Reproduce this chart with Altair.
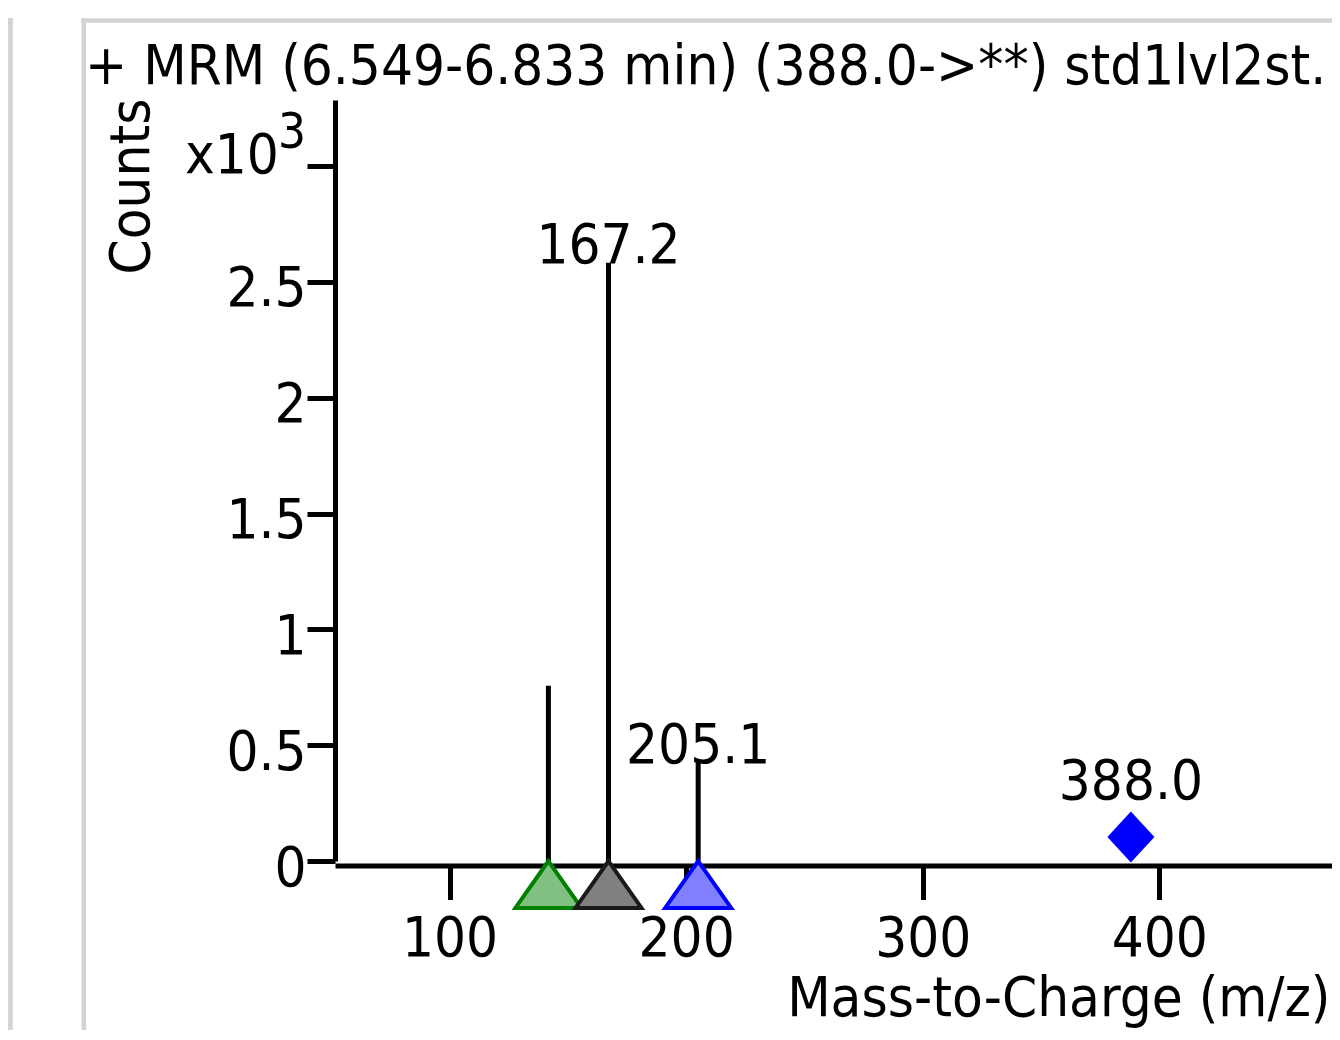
import altair as alt
import pandas as pd

# ---- data ----
peak_mz = [141.8, 167.2, 205.1]
peak_counts = [0.756, 2.582, 0.423]          # in units of x10^3 counts
peak_labels = ["", "167.2", "205.1"]
marker_ids = ["ion A", "ion B", "ion C"]
precursor_mz = [388.0]
precursor_labels = ["388.0"]
x_ticks = [100, 200, 300, 400]
y_ticks = [0, 0.5, 1, 1.5, 2, 2.5, 3]
title_text = "+ MRM (6.549-6.833 min) (388.0->**) std1lvl2st."
x_title = "Mass-to-Charge (m/z)"
y_title = "Counts"
exp_base = "x10"
exp_power = "3"

# ---- styles ----
FONT = "DejaVu Sans Condensed"
FS = 56
marker_fill = ["#80c080", "#808080", "#8080ff"]
marker_stroke = ["#008000", "#1a1a1a", "#0000ff"]
BORDER = "#d3d3d3"
TRI = "M0,-0.71L1,0.71L-1,0.71Z"
DIAMOND = "M0,-1.08L1,0L0,1.08L-1,0Z"

peaks = pd.DataFrame({"mz": peak_mz, "counts": peak_counts,
                      "label": peak_labels, "ion": marker_ids})
prec = pd.DataFrame({"mz": precursor_mz, "label": precursor_labels})

xs = alt.Scale(domain=[51.6, 473.0], nice=False, zero=False)
ys = alt.Scale(domain=[0, 3.285], nice=False, zero=False)

x_axis = alt.Axis(values=x_ticks, format="d", grid=False,
                  domainColor="black", domainWidth=5, tickColor="black",
                  tickWidth=5, tickSize=34, offset=4.5,
                  labelFont=FONT, labelFontSize=FS, labelColor="black",
                  labelPadding=12, labelFlush=False,
                  title=x_title, titleFont=FONT, titleFontSize=FS,
                  titleFontWeight="normal", titleColor="black",
                  titleAlign="right", titleBaseline="alphabetic",
                  titleX=995, titleY=150)

y_axis = alt.Axis(values=y_ticks, grid=False,
                  domainColor="black", domainWidth=5, tickColor="black",
                  tickWidth=5, tickSize=28,
                  labelFont=FONT, labelFontSize=FS, labelColor="black",
                  labelPadding=1, labelOffset=7,
                  labelExpr="datum.value == 3 ? '' : format(datum.value, '~g')",
                  title=y_title, titleFont=FONT, titleFontSize=FS,
                  titleFontWeight="normal", titleColor="black",
                  titleAngle=270, titleAlign="center",
                  titleBaseline="alphabetic", titleX=-187, titleY=86)

one = alt.Data(values=[{"k": 1}])

def vrule(x, y1, y2):
    return alt.Chart(one).mark_rule(color=BORDER, strokeWidth=4.7).encode(
        x=alt.value(x), y=alt.value(y1), y2=alt.value(y2))

def hrule(y, x1, x2):
    return alt.Chart(one).mark_rule(color=BORDER, strokeWidth=4.5).encode(
        y=alt.value(y), x=alt.value(x1), x2=alt.value(x2))

borders = [
    vrule(-324.6, -82, 945),
    hrule(-79.5, -335, -322.3),
    vrule(-251.2, -81.7, 945),
    hrule(-79.5, -253.5, 1010),
]

sticks = alt.Chart(peaks).mark_rule(color="black", strokeWidth=5).encode(
    x=alt.X("mz:Q", scale=xs, axis=x_axis),
    y=alt.Y("counts:Q", scale=ys, axis=y_axis),
    y2=alt.datum(0),
)

triangles = alt.Chart(peaks).mark_point(
    shape=TRI, size=4356, filled=True, opacity=1, strokeWidth=4, yOffset=23.5
).encode(
    x="mz:Q",
    y=alt.datum(0),
    fill=alt.Fill("ion:N", scale=alt.Scale(domain=marker_ids, range=marker_fill), legend=None),
    stroke=alt.Stroke("ion:N", scale=alt.Scale(domain=marker_ids, range=marker_stroke), legend=None),
)

peak_text = alt.Chart(peaks).mark_text(
    font=FONT, fontSize=FS, color="black", align="center", baseline="alphabetic"
).encode(x="mz:Q", y="counts:Q", text="label:N")

diamond = alt.Chart(prec).mark_point(
    shape=DIAMOND, size=2209, filled=True, opacity=1, color="#0000ff",
    strokeWidth=0, yOffset=-24
).encode(x="mz:Q", y=alt.datum(0))

prec_text = alt.Chart(prec).mark_text(
    font=FONT, fontSize=FS, color="black", align="center",
    baseline="alphabetic", dy=-62
).encode(x="mz:Q", y=alt.datum(0), text="label:N")

title = alt.Chart(one).mark_text(
    text=title_text, font=FONT, fontSize=FS, color="black",
    align="left", baseline="alphabetic"
).encode(x=alt.value(-250), y=alt.value(-16))

exp1 = alt.Chart(one).mark_text(
    text=exp_base, font=FONT, fontSize=FS, color="black",
    align="left", baseline="alphabetic"
).encode(x=alt.value(-150), y=alt.value(73))

exp2 = alt.Chart(one).mark_text(
    text=exp_power, font=FONT, fontSize=49, color="black",
    align="left", baseline="alphabetic"
).encode(x=alt.value(-57), y=alt.value(48))

chart = alt.layer(
    *borders, sticks, triangles, peak_text, diamond, prec_text, title, exp1, exp2
).properties(
    width=997, height=761,
    padding={"left": 327, "top": 92, "right": 0, "bottom": 169},
    autosize="none", background="white",
).configure_view(stroke=None)

chart.save("out.html", embed_options={"renderer": "svg", "actions": False})
